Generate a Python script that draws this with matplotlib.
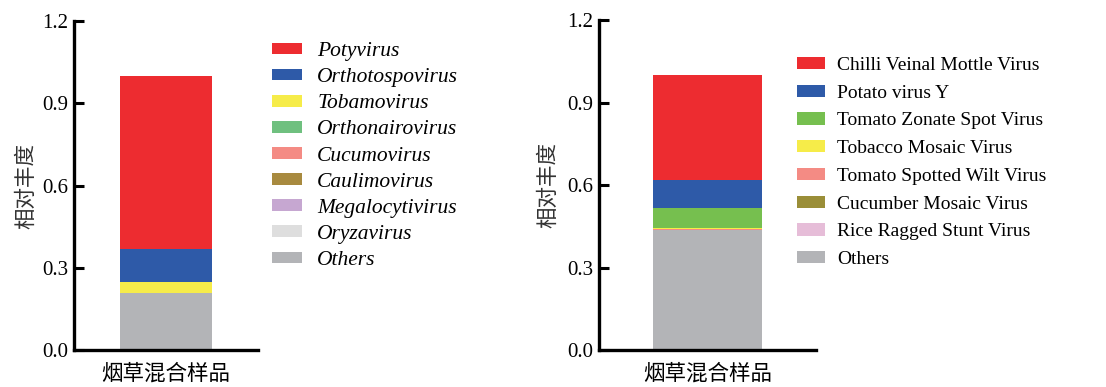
import matplotlib
matplotlib.use("Agg")
import matplotlib.pyplot as plt
from matplotlib.patches import Patch

plt.rcParams['font.family'] = ['Liberation Serif', 'Noto Sans CJK SC']

sample = '烟草混合样品'

# 属水平 (左图)，列表顺序 = 图例顺序 = 堆叠自上而下
genus_names = ['Potyvirus', 'Orthotospovirus', 'Tobamovirus', 'Orthonairovirus',
               'Cucumovirus', 'Caulimovirus', 'Megalocytivirus', 'Oryzavirus', 'Others']
genus_values = [0.632, 0.120, 0.040, 0.0003, 0.0003, 0.0002, 0.0001, 0.0001, 0.207]
genus_colors = ['#ED2C30', '#2E5AA8', '#F6EC49', '#6FC07F', '#F48B84',
                '#A88A3F', '#C6A7D1', '#DEDEDE', '#B3B4B7']

# 种水平 (右图)
species_names = ['Chilli Veinal Mottle Virus', 'Potato virus Y', 'Tomato Zonate Spot Virus',
                 'Tobacco Mosaic Virus', 'Tomato Spotted Wilt Virus', 'Cucumber Mosaic Virus',
                 'Rice Ragged Stunt Virus', 'Others']
species_values = [0.382, 0.102, 0.072, 0.004, 0.003, 0.001, 0.001, 0.435]
species_colors = ['#ED2C30', '#2E5AA8', '#76BF4F', '#F6EC49', '#F48B84',
                  '#9A8E38', '#E6BDD8', '#B3B4B7']

yticks = [0.0, 0.3, 0.6, 0.9, 1.2]

fig = plt.figure(figsize=(11.06, 3.87), dpi=100)
ax1 = fig.add_axes([0.0669, 0.0956, 0.1664, 0.850])
ax2 = fig.add_axes([0.5416, 0.0956, 0.1962, 0.852])


def stacked(ax, names, values, colors, ylabelpad):
    bottom = 0.0
    for n, v, c in reversed(list(zip(names, values, colors))):
        ax.bar(0, v, width=0.5, bottom=bottom, color=c, edgecolor='none')
        bottom += v
    ax.set_xlim(-0.5, 0.5)
    ax.set_ylim(0, 1.2)
    ax.set_yticks(yticks)
    ax.set_yticklabels([f'{t:.1f}' for t in yticks], fontsize=15)
    ax.set_xticks([0])
    ax.set_xticklabels([sample], family='Noto Sans CJK SC', fontsize=15.5)
    ax.tick_params(axis='x', length=0, pad=9)
    ax.tick_params(axis='y', direction='in', length=7, width=2.2, pad=4)
    for s in ['top', 'right']:
        ax.spines[s].set_visible(False)
    for s in ['left', 'bottom']:
        ax.spines[s].set_linewidth(2.4)
    ax.set_ylabel('相对丰度', family='Noto Sans CJK SC', fontsize=15.5,
                  color='#333333', labelpad=ylabelpad)


stacked(ax1, genus_names, genus_values, genus_colors, 4)
stacked(ax2, species_names, species_values, species_colors, 6)

h1 = [Patch(facecolor=c, edgecolor='none') for c in genus_colors]
fig.legend(h1, genus_names, loc='upper left', bbox_to_anchor=(0.246, 0.891),
           frameon=False, borderpad=0, borderaxespad=0,
           prop={'family': 'Liberation Serif', 'style': 'italic', 'size': 15.5},
           handlelength=1.4, handleheight=0.45, handletextpad=0.7,
           labelspacing=0.33)

h2 = [Patch(facecolor=c, edgecolor='none') for c in species_colors]
fig.legend(h2, species_names, loc='upper left', bbox_to_anchor=(0.7206, 0.853),
           frameon=False, borderpad=0, borderaxespad=0,
           prop={'family': 'Liberation Serif', 'size': 14},
           handlelength=1.45, handleheight=0.6, handletextpad=0.6,
           labelspacing=0.55)

fig.savefig('out.png', dpi=100)
